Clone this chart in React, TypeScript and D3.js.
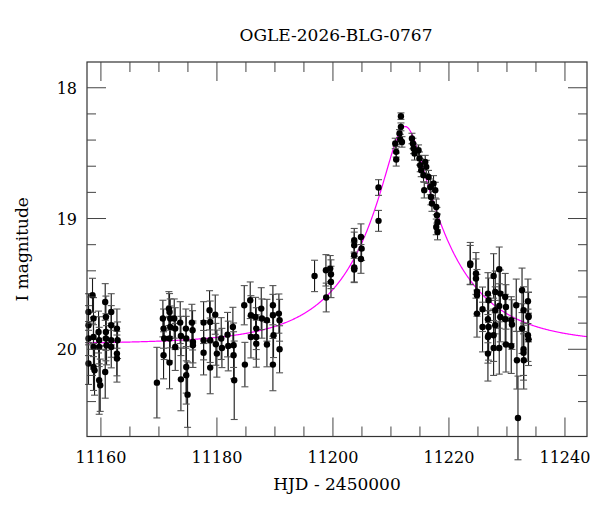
import React, { useEffect, useRef } from "react";
import * as d3 from "d3";

// [HJD - 2450000, I mag, error], one array per observing run
const run1: [number, number, number][] = [
  [11157.86, 19.715, 0.14], [11157.86, 19.816, 0.15], [11157.86, 19.918, 0.13], [11157.86, 20.109, 0.16],
  [11158.55, 19.587, 0.13], [11158.72, 19.765, 0.16], [11158.72, 19.906, 0.15], [11158.72, 19.982, 0.17],
  [11158.72, 20.135, 0.18], [11158.9, 20.161, 0.19], [11159.59, 19.868, 0.16], [11159.7, 19.931, 0.18],
  [11159.7, 19.982, 0.15], [11159.7, 20.237, 0.26], [11159.88, 20.275, 0.2], [11160.74, 19.638, 0.14],
  [11160.86, 19.753, 0.16], [11160.86, 19.868, 0.14], [11160.86, 19.918, 0.17], [11160.74, 20.174, 0.2],
  [11160.97, 19.969, 0.15], [11161.78, 19.715, 0.14], [11161.78, 19.816, 0.15], [11161.78, 19.931, 0.13],
  [11161.78, 19.982, 0.16], [11162.76, 19.842, 0.15], [11162.87, 19.931, 0.14], [11162.76, 20.033, 0.17],
  [11162.76, 20.071, 0.18],
];

const run2: [number, number, number][] = [
  [11169.65, 20.255, 0.27],
  [11170.68, 19.765, 0.14], [11170.8, 19.842, 0.15], [11170.8, 20.046, 0.18], [11170.91, 19.918, 0.16],
  [11171.72, 19.689, 0.13], [11171.83, 19.714, 0.14], [11171.83, 20.102, 0.2], [11171.95, 19.765, 0.15],
  [11171.95, 19.829, 0.16], [11171.83, 19.918, 0.17],
  [11172.64, 19.765, 0.15], [11172.81, 19.842, 0.16], [11172.81, 19.982, 0.18],
  [11173.67, 19.796, 0.16], [11173.79, 19.898, 0.15], [11173.79, 20.23, 0.24],
  [11174.65, 19.842, 0.15], [11174.71, 19.918, 0.17], [11174.71, 20.135, 0.2], [11174.71, 20.199, 0.22],
  [11174.94, 20.347, 0.25],
  [11175.68, 19.796, 0.14], [11175.8, 19.855, 0.15], [11175.86, 19.944, 0.16], [11175.86, 19.969, 0.17],
  [11177.7, 19.796, 0.16], [11177.7, 19.931, 0.15], [11177.7, 20.026, 0.17],
  [11178.73, 19.702, 0.15], [11178.84, 19.791, 0.16], [11178.84, 19.931, 0.17], [11178.84, 20.14, 0.2],
  [11179.71, 19.735, 0.15], [11179.82, 19.962, 0.16], [11179.99, 20.033, 0.18],
  [11180.74, 19.918, 0.16], [11180.86, 19.99, 0.15],
  [11181.83, 19.888, 0.17], [11181.95, 19.975, 0.19],
  [11182.75, 19.829, 0.15], [11182.87, 19.969, 0.17], [11182.87, 20.046, 0.18], [11182.98, 20.237, 0.3],
  [11184.71, 19.663, 0.15], [11184.82, 20.117, 0.17],
  [11185.74, 19.625, 0.14], [11185.86, 19.74, 0.15], [11185.86, 19.906, 0.16],
  [11186.66, 19.753, 0.15], [11186.78, 19.842, 0.16], [11186.78, 19.906, 0.17], [11186.78, 19.957, 0.18],
  [11187.64, 19.689, 0.16], [11187.75, 19.765, 0.15],
  [11188.62, 19.778, 0.16], [11188.62, 19.964, 0.17],
  [11189.65, 19.663, 0.15], [11189.65, 19.74, 0.16], [11189.76, 19.893, 0.17], [11189.65, 20.117, 0.2],
  [11190.68, 19.727, 0.15], [11190.8, 19.778, 0.16], [11190.8, 20.0, 0.18],
];

const run3: [number, number, number][] = [
  [11196.83, 19.439, 0.12], [11198.79, 19.396, 0.12], [11198.84, 19.604, 0.11], [11199.53, 19.383, 0.1],
  [11199.66, 19.426, 0.11], [11199.66, 19.485, 0.12],
  [11203.67, 19.166, 0.09], [11203.67, 19.204, 0.1], [11203.67, 19.281, 0.1], [11203.67, 19.375, 0.11],
  [11203.67, 19.39, 0.1], [11204.83, 19.141, 0.1], [11204.94, 19.23, 0.09], [11204.83, 19.309, 0.11],
  [11207.86, 18.763, 0.06], [11207.86, 19.018, 0.08],
];

const run4: [number, number, number][] = [
  [11210.74, 18.426, 0.04], [11210.91, 18.49, 0.04], [11210.91, 18.549, 0.05], [11211.48, 18.35, 0.03],
  [11211.6, 18.396, 0.04], [11211.72, 18.217, 0.025], [11211.72, 18.299, 0.03], [11211.9, 18.414, 0.04],
  [11213.62, 18.388, 0.04], [11213.79, 18.426, 0.04], [11213.9, 18.464, 0.04], [11214.07, 18.503, 0.05],
  [11214.76, 18.477, 0.04], [11214.93, 18.541, 0.05], [11215.05, 18.592, 0.05], [11215.22, 18.63, 0.05],
  [11215.62, 18.669, 0.05], [11215.74, 18.783, 0.06], [11215.91, 18.567, 0.05], [11216.09, 18.605, 0.05],
  [11216.48, 18.682, 0.05], [11216.78, 18.758, 0.06], [11216.9, 18.835, 0.06], [11217.07, 18.885, 0.06],
  [11217.34, 18.732, 0.06], [11217.64, 18.783, 0.06], [11217.81, 18.911, 0.06], [11217.93, 18.975, 0.06],
  [11218.03, 19.026, 0.06], [11217.81, 19.064, 0.06], [11218.03, 19.103, 0.06],
];

const run5: [number, number, number][] = [
  [11223.67, 19.343, 0.16], [11223.67, 19.356, 0.15],
  [11224.66, 19.42, 0.16], [11224.66, 19.459, 0.15], [11224.83, 19.56, 0.17], [11224.83, 19.587, 0.16],
  [11224.83, 19.727, 0.18],
  [11225.79, 19.694, 0.17], [11225.79, 19.83, 0.19],
  [11226.72, 19.574, 0.16], [11226.83, 19.625, 0.17], [11226.72, 19.77, 0.18], [11226.83, 19.83, 0.19],
  [11226.83, 19.893, 0.19], [11226.72, 19.906, 0.2], [11226.72, 20.033, 0.21],
  [11227.7, 19.439, 0.17], [11227.98, 19.561, 0.16], [11227.98, 19.702, 0.18], [11227.98, 19.816, 0.19],
  [11227.7, 19.893, 0.2], [11227.7, 19.99, 0.21],
  [11228.67, 19.388, 0.17], [11228.85, 19.574, 0.18], [11228.67, 19.669, 0.17], [11228.85, 19.753, 0.19],
  [11228.67, 19.99, 0.2],
  [11229.7, 19.6, 0.18], [11229.83, 19.676, 0.17], [11229.7, 19.77, 0.19], [11229.83, 19.964, 0.21],
  [11230.74, 19.778, 0.18], [11230.86, 19.811, 0.19], [11230.74, 19.975, 0.21],
  [11231.6, 19.663, 0.2], [11231.72, 20.084, 0.22], [11231.9, 20.525, 0.32],
  [11232.6, 19.549, 0.17], [11232.86, 19.702, 0.18], [11232.6, 19.842, 0.19], [11232.86, 20.0, 0.2],
  [11232.86, 20.026, 0.21], [11232.9, 20.084, 0.22],
  [11233.62, 19.633, 0.17], [11233.72, 19.745, 0.18], [11233.72, 19.753, 0.19], [11233.62, 19.893, 0.2],
  [11233.72, 19.924, 0.2],
];

// point-lens model fitted by eye
const I0 = 19.96;
const t0 = 11212.47;
const tE = 15.1;
const u0 = 0.22;

const xTicks = [11160, 11180, 11200, 11220, 11240];
const yTicks = [18, 19, 20];
const title = "OGLE-2026-BLG-0767";

const W = 600, H = 512;
const L = 87, R = 587, T = 62, B = 436.5;
const font = "'DejaVu Serif', serif";

function model(t: number) {
  const tau = (t - t0) / tE;
  const u = Math.sqrt(u0 * u0 + tau * tau);
  const A = (u * u + 2) / (u * Math.sqrt(u * u + 4));
  return I0 - 2.5 * Math.log10(A);
}

export default function App() {
  const ref = useRef<SVGSVGElement>(null);

  useEffect(() => {
    const svg = d3.select(ref.current);
    svg.selectAll("*").remove();

    const x = d3.scaleLinear().domain([11157.6, 11243.8]).range([L, R]);
    const y = d3.scaleLinear().domain([17.803, 20.667]).range([T, B]);

    const g = svg.append("g");

    // model curve
    const ts = d3.range(x.domain()[0], x.domain()[1] + 0.05, 0.1);
    g.append("path")
      .datum(ts)
      .attr("fill", "none")
      .attr("stroke", "#ff00ff")
      .attr("stroke-width", 1.2)
      .attr("d", d3.line<number>().x(t => x(t)).y(t => y(model(t))));

    const pts = [...run1, ...run2, ...run3, ...run4, ...run5];

    // error bars
    const eb = g.append("g");
    eb.selectAll("line.bar")
      .data(pts)
      .enter()
      .append("line")
      .attr("x1", d => x(d[0]))
      .attr("x2", d => x(d[0]))
      .attr("y1", d => y(d[1] - d[2]))
      .attr("y2", d => y(d[1] + d[2]))
      .attr("stroke", "#1a1a1a")
      .attr("stroke-width", 1.1);
    [-1, 1].forEach(s => {
      eb.selectAll("line.cap" + (s > 0 ? "a" : "b"))
        .data(pts)
        .enter()
        .append("line")
        .attr("x1", d => x(d[0]) - 3.5)
        .attr("x2", d => x(d[0]) + 3.5)
        .attr("y1", d => y(d[1] + s * d[2]))
        .attr("y2", d => y(d[1] + s * d[2]))
        .attr("stroke", "#555")
        .attr("stroke-width", 1.1);
    });

    g.append("g")
      .selectAll("circle")
      .data(pts)
      .enter()
      .append("circle")
      .attr("cx", d => x(d[0]))
      .attr("cy", d => y(d[1]))
      .attr("r", 3.2)
      .attr("fill", "#000");

    // frame + ticks
    g.append("rect")
      .attr("x", L).attr("y", T)
      .attr("width", R - L).attr("height", B - T)
      .attr("fill", "none")
      .attr("stroke", "#333")
      .attr("stroke-width", 1.2);

    const tk = g.append("g").attr("stroke", "#444").attr("stroke-width", 1);
    const xMinor = d3.range(11160, 11244, 5);
    xMinor.forEach(v => {
      const len = xTicks.includes(v) ? 19 : 10;
      tk.append("line").attr("x1", x(v)).attr("x2", x(v)).attr("y1", B).attr("y2", B - len);
      tk.append("line").attr("x1", x(v)).attr("x2", x(v)).attr("y1", T).attr("y2", T + len);
    });
    const yMinor = d3.range(0, 14).map(i => +(17.8 + i * 0.2).toFixed(1)).filter(v => v > 17.81 && v < 20.66);
    yMinor.forEach(v => {
      const len = yTicks.includes(v) ? 19 : 9;
      tk.append("line").attr("y1", y(v)).attr("y2", y(v)).attr("x1", L).attr("x2", L + len);
      tk.append("line").attr("y1", y(v)).attr("y2", y(v)).attr("x1", R).attr("x2", R - len);
    });

    // labels
    const lab = svg.append("g").attr("font-family", font).attr("font-size", 16).attr("fill", "#000");
    lab.selectAll("text.xt")
      .data(xTicks)
      .enter()
      .append("text")
      .attr("x", d => x(d))
      .attr("y", 463)
      .attr("text-anchor", "middle")
      .text(d => d);
    lab.selectAll("text.yt")
      .data(yTicks)
      .enter()
      .append("text")
      .attr("x", 77)
      .attr("y", d => y(d) + 6)
      .attr("text-anchor", "end")
      .text(d => d);
    lab.append("text")
      .attr("x", (L + R) / 2).attr("y", 490)
      .attr("font-size", 17)
      .attr("text-anchor", "middle")
      .text("HJD - 2450000");
    lab.append("text")
      .attr("transform", `translate(28, ${(T + B) / 2}) rotate(-90)`)
      .attr("font-size", 17)
      .attr("text-anchor", "middle")
      .text("I magnitude");
    lab.append("text")
      .attr("x", (L + R) / 2 - 1).attr("y", 41)
      .attr("font-size", 17)
      .attr("text-anchor", "middle")
      .text(title);
  }, []);

  return (
    <svg ref={ref} width={W} height={H}
      style={{ position: "absolute", left: 0, top: 0, background: "#fff" }} />
  );
}
